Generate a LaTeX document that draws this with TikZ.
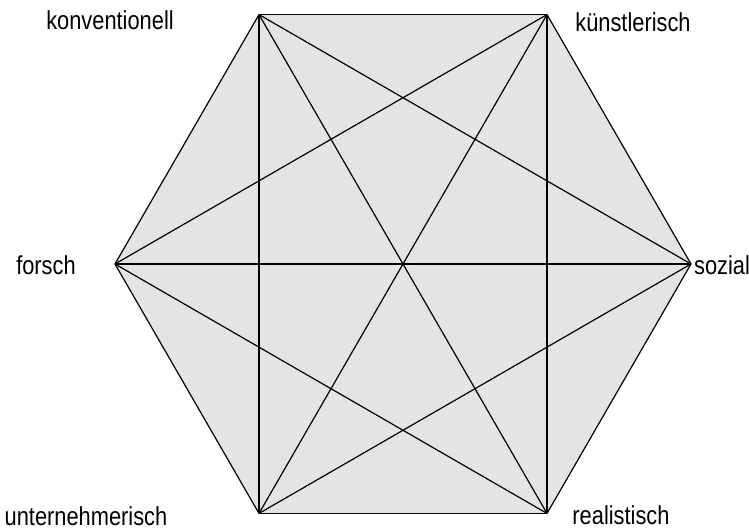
\documentclass[tikz,border=0pt]{standalone}
\usepackage{fontspec}
\setmainfont{Liberation Sans}[FakeStretch=0.84]
\usepackage{tikz}
\usetikzlibrary{positioning}
\definecolor{hexfill}{RGB}{228,228,228}

\begin{document}
\begin{tikzpicture}[
  x=0.5pt, y=0.5pt,
  corner/.style={inner sep=0pt, minimum size=0pt},
  lbl/.style={font=\fontsize{13}{15}\selectfont, inner sep=0pt},
  link/.style={line width=0.6pt, line join=miter}
]
\useasboundingbox (-403,-265) rectangle (346,264);
% hexagon corners
\foreach \a/\n in {0/soz,60/kue,120/kon,180/for,240/unt,300/rea}
  \node[corner] (\n) at (\a:288) {};
\fill[hexfill] (soz.center) -- (kue.center) -- (kon.center) -- (for.center) -- (unt.center) -- (rea.center) -- cycle;
% every pair of corners
\foreach \i/\j in {soz/kue,kue/kon,kon/for,for/unt,unt/rea,rea/soz,
                   soz/kon,kue/for,kon/unt,for/rea,unt/soz,rea/kue,
                   soz/for,kue/unt,kon/rea}
  \draw[link] (\i.center) -- (\j.center);
% labels
\node[lbl] (lkon) at (-293,244) {konventionell};
\node[lbl] (lkue) at (230,242) {künstlerisch};
\node[lbl] (lfor) at (-357,-1) {forsch};
\node[lbl] (lsoz) at (319,-1) {sozial};
\node[lbl] (lunt) at (-317,-252) {unternehmerisch};
\node[lbl] (lrea) at (218,-251) {realistisch};
\end{tikzpicture}
\end{document}
